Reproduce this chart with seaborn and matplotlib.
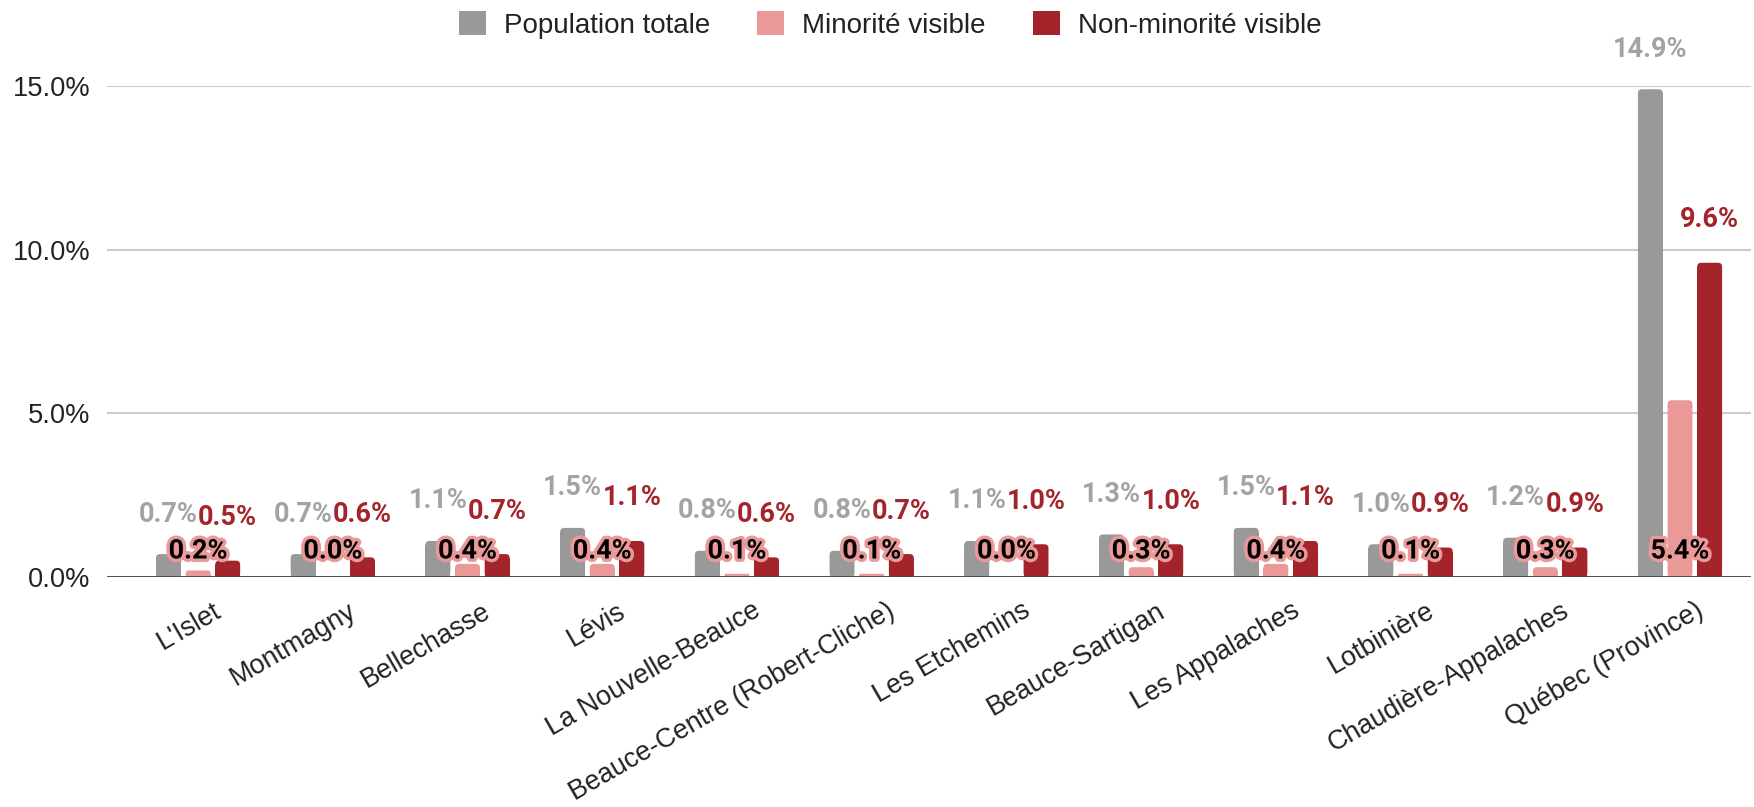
import matplotlib
matplotlib.use("Agg")
import matplotlib.pyplot as plt
import matplotlib.patheffects as pe
import matplotlib.transforms as mtransforms
from matplotlib.patches import Patch, FancyBboxPatch, Rectangle
import numpy as np
import pandas as pd
import seaborn as sns

categories = ["L'Islet", "Montmagny", "Bellechasse", "Lévis", "La Nouvelle-Beauce",
              "Beauce-Centre (Robert-Cliche)", "Les Etchemins", "Beauce-Sartigan",
              "Les Appalaches", "Lotbinière", "Chaudière-Appalaches", "Québec (Province)"]
series_names = ["Population totale", "Minorité visible", "Non-minorité visible"]
pop_totale = [0.7, 0.7, 1.1, 1.5, 0.8, 0.8, 1.1, 1.3, 1.5, 1.0, 1.2, 14.9]
minorite = [0.2, 0.0, 0.4, 0.4, 0.1, 0.1, 0.0, 0.3, 0.4, 0.1, 0.3, 5.4]
non_minorite = [0.5, 0.6, 0.7, 1.1, 0.6, 0.7, 1.0, 1.0, 1.1, 0.9, 0.9, 9.6]
y_ticks = [0, 5, 10, 15]

colors = ["#999999", "#ea9999", "#a4242b"]
label_colors = ["#a3a3a3", "#000000", "#a4242b"]

sns.set_theme(style="white")
plt.rcParams['font.family'] = ['Liberation Sans', 'DejaVu Sans']

df = pd.DataFrame({
    "cat": categories * 3,
    "serie": sum([[s] * len(categories) for s in series_names], []),
    "val": pop_totale + minorite + non_minorite,
})

W, H = 1754, 807
ax_l, ax_r, ax_t, ax_b = 107, 1751, 86, 577
fig = plt.figure(figsize=(W / 100, H / 100), dpi=100)
ax = fig.add_axes([ax_l / W, 1 - ax_b / H, (ax_r - ax_l) / W, (ax_b - ax_t) / H])

sns.barplot(data=df, x="cat", y="val", hue="serie", hue_order=series_names,
            palette=colors, width=0.66, gap=0.16, ax=ax, legend=False,
            saturation=1, errorbar=None, linewidth=0)

xlim = (-0.676, 11.527)
ylim = (0, 15)
ax.set_xlim(*xlim)
ax.set_ylim(*ylim)
ax.set_yticks(y_ticks)
ax.set_yticklabels([f"{v:.1f}%" for v in y_ticks], fontsize=19.6, color="#222222")
ax.yaxis.grid(True, color="#cccccc", linewidth=1.5)
ax.set_axisbelow(True)
for s in ax.spines.values():
    s.set_visible(False)
ax.axhline(0, color="#444444", linewidth=2, zorder=5)
ax.tick_params(axis="y", length=0, pad=12)
ax.tick_params(axis="x", length=0)
ax.set_xlabel("")
ax.set_ylabel("")

ax.set_xticks(range(len(categories)))
ax.set_xticklabels(categories, rotation=30, ha="right", va="top",
                   rotation_mode="anchor", fontsize=19.4, color="#222222")
offset = mtransforms.ScaledTranslation(15 / 100, -16 / 100, fig.dpi_scale_trans)
for lab in ax.get_xticklabels():
    lab.set_transform(lab.get_transform() + offset)

# rounded top corners for bars
px_per_x = (ax_r - ax_l) / (xlim[1] - xlim[0])
px_per_y = (ax_b - ax_t) / (ylim[1] - ylim[0])
r_px = 4.0
rx = r_px / px_per_x
aspect = px_per_x / px_per_y
ry = rx * aspect
for k, cont in enumerate(ax.containers):
    for bar in cont.patches:
        x0, w, h = bar.get_x(), bar.get_width(), bar.get_height()
        bar.set_visible(False)
        if h <= 0:
            continue
        rs = min(rx, h / aspect / 2, w / 2)
        fb = FancyBboxPatch((x0, 0), w, h, boxstyle=f"round,pad=0,rounding_size={rs}",
                            mutation_aspect=aspect, facecolor=colors[k], edgecolor="none",
                            linewidth=0, zorder=2)
        ax.add_patch(fb)
        ax.add_patch(Rectangle((x0, 0), w, max(h - ry, h / 2), facecolor=colors[k],
                               edgecolor="none", linewidth=0, zorder=2))

datasets = [pop_totale, minorite, non_minorite]
for k, cont in enumerate(ax.containers):
    for bar, v in zip(cont.patches, datasets[k]):
        xc = bar.get_x() + bar.get_width() / 2
        txt = f"{v:.1f}%"
        if k == 0:
            ax.annotate(txt, (xc, v), xytext=(0, 40 * 0.72), textcoords="offset points",
                        ha="center", va="center", fontsize=19.5, color=label_colors[0],
                        family="Roboto", fontweight="semibold", zorder=6)
        elif k == 2:
            ax.annotate(txt, (xc, v), xytext=(0, 43 * 0.72), textcoords="offset points",
                        ha="center", va="center", fontsize=19.5, color=label_colors[2],
                        family="Roboto", fontweight="bold", zorder=7)
        else:
            ax.annotate(txt, (xc, 0), xytext=(0, 26 * 0.72), textcoords="offset points",
                        ha="center", va="center", fontsize=19.5, color=label_colors[1],
                        family="Roboto", fontweight="bold", zorder=8,
                        path_effects=[pe.withStroke(linewidth=5, foreground=colors[1])])

handles = [Patch(facecolor=c, edgecolor="none") for c in colors]
fig.legend(handles, series_names, loc="center", bbox_to_anchor=(890 / W, 1 - 25 / H),
           ncol=3, frameon=False, fontsize=20, handlelength=0.97, handleheight=0.97,
           handletextpad=0.65, columnspacing=1.7, labelcolor="#222222")

fig.savefig("out.png", dpi=100)
